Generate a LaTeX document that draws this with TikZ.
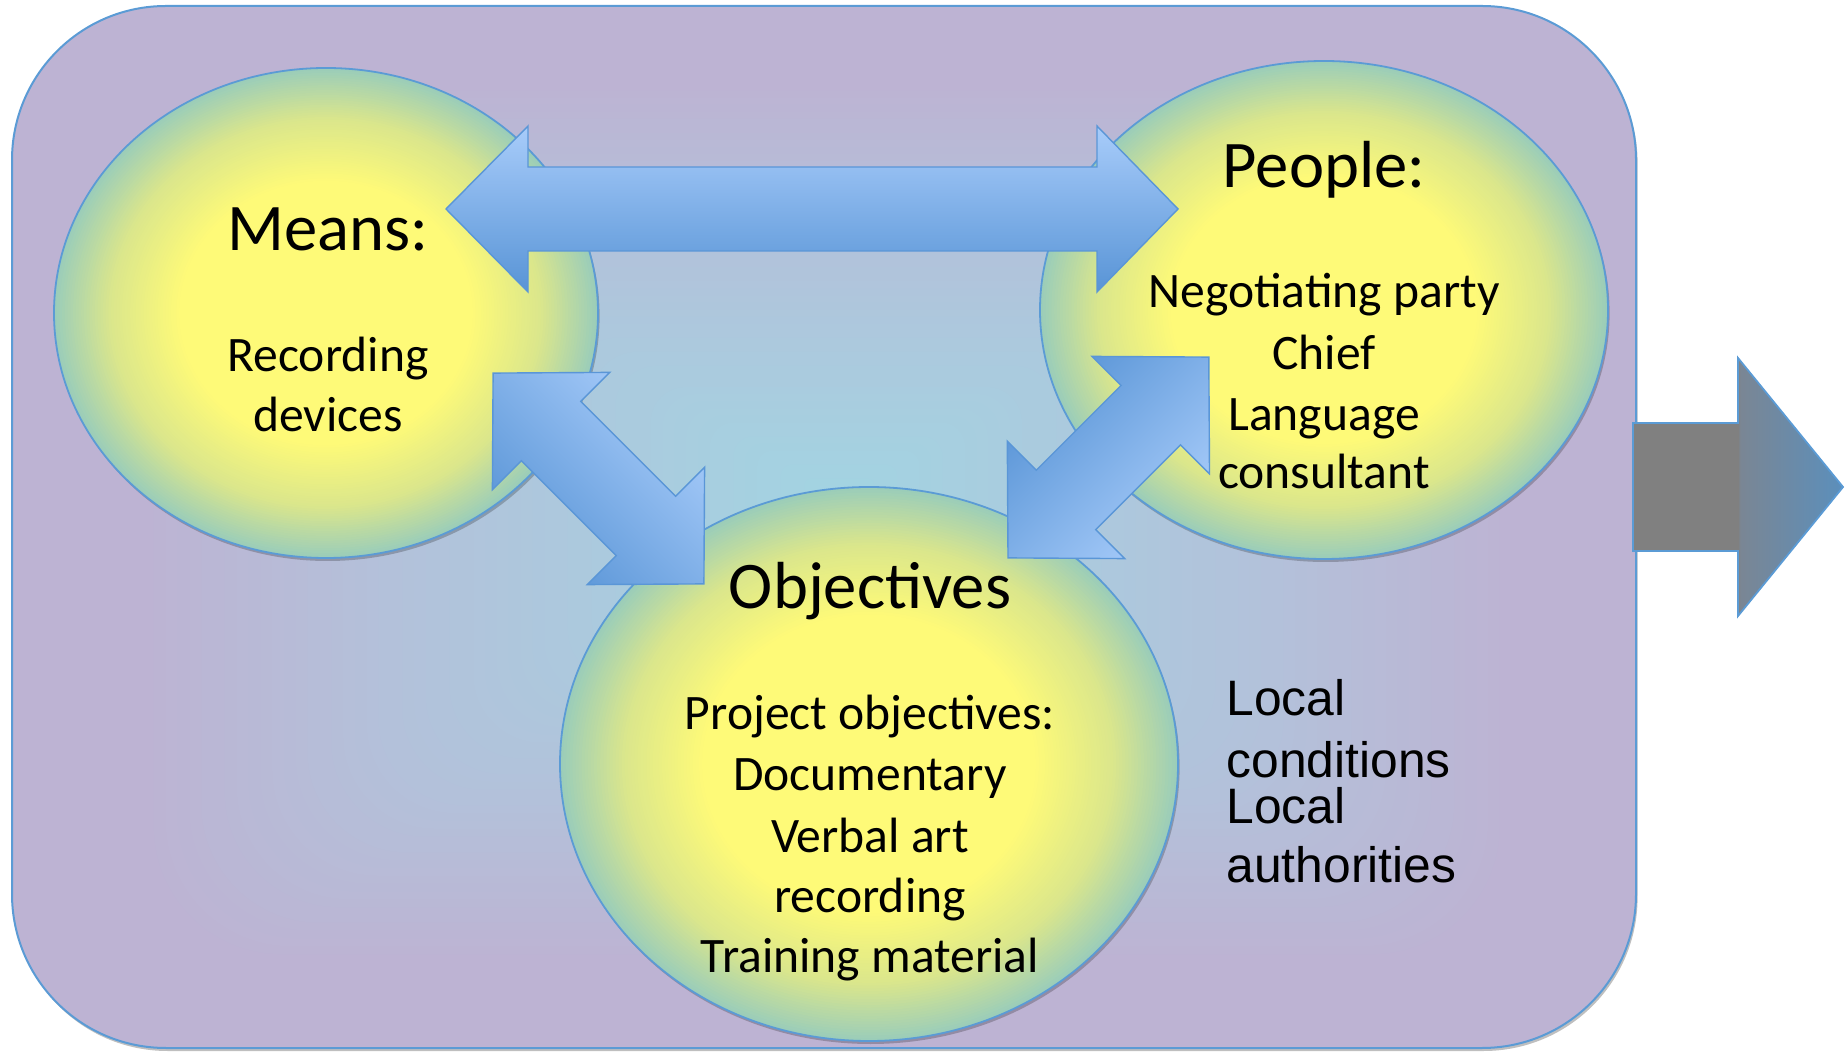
\documentclass[tikz,border=0pt]{standalone}
\usepackage{fontspec}
\setmainfont{Carlito}
\newfontfamily\arialf{Liberation Sans}
\usetikzlibrary{shapes.geometric,shadows}
\definecolor{bgC}{RGB}{162,212,226}
\definecolor{bgM}{RGB}{179,193,218}
\definecolor{bgL}{RGB}{189,179,211}
\definecolor{ellin}{RGB}{254,250,120}
\definecolor{ellmid}{RGB}{218,230,140}
\definecolor{ellout}{RGB}{155,205,185}
\definecolor{outl}{RGB}{91,155,213}
\definecolor{arL}{RGB}{168,204,250}
\definecolor{arD}{RGB}{88,148,214}
\definecolor{arO}{RGB}{90,150,215}
\definecolor{gA}{RGB}{128,128,128}
\definecolor{gB}{RGB}{122,134,148}
\definecolor{gC}{RGB}{60,152,228}
\pgfdeclarehorizontalshading{grayarrow}{100bp}{color(0bp)=(gA); color(50bp)=(gA); color(50.5bp)=(gB); color(100bp)=(gC)}
% gradient-filled ellipse: name, cx, cy, rx, ry (in px units)
\newcommand\gradblob[5]{%
  \fill[black,opacity=0.22] ({#2+1.6},{#3+3}) ellipse [x radius=#4, y radius=#5];
  \foreach \j in {0,...,46} {
    \pgfmathsetmacro\eS{1-\j*0.46/46}
    \pgfmathsetmacro\eU{(\eS-0.54)/0.46}
    \pgfmathsetmacro\eP{min(100,max(0,\eU/0.56*100))}
    \pgfmathsetmacro\eQ{min(100,max(0,(\eU-0.56)/0.44*100))}
    \pgfmathsetmacro\eRx{#4*\eS}
    \pgfmathsetmacro\eRy{#5*\eS}
    \colorlet{emix}{ellmid!\eP!ellin}
    \colorlet{estep}{ellout!\eQ!emix}
    \fill[estep] (#2,#3) ellipse [x radius=\eRx, y radius=\eRy];
  }
  \node[ellipse,inner sep=0pt,draw=outl,line width=0.9pt,minimum width=#4pt,minimum height=#5pt] (#1) at (#2,#3) {};
}
\begin{document}
\begin{tikzpicture}[x=0.5pt,y=-0.5pt,
  softshadow/.style={drop shadow={shadow xshift=0.8pt,shadow yshift=-1.5pt,opacity=0.25,fill=black}},
  blockarrow/.style={top color=arL,bottom color=arD,draw=arO,line width=0.7pt},
  titletext/.style={font=\fontsize{33.3}{40}\selectfont,anchor=base,inner sep=0pt},
  bodytext/.style={font=\fontsize{24.8}{30}\selectfont,anchor=base,inner sep=0pt},
  sidetext/.style={font=\arialf\fontsize{24.9}{30}\selectfont,anchor=base west,inner sep=0pt}]
\useasboundingbox (0,0) rectangle (1847,1052);
% background panel with a rectangular (path) gradient
\path[fill=bgL,rounded corners=77pt,softshadow] (12,6) rectangle (1636,1048);
\begin{scope}
  \clip[rounded corners=77pt] (12,6) rectangle (1636,1048);
  \foreach \i in {0,...,70} {
    \pgfmathsetmacro{\bgT}{1-\i/70}
    \pgfmathsetmacro{\bgA}{min(100,max(0,(\bgT-0.55)/0.3*100))}
    \pgfmathsetmacro{\bgB}{min(100,max(0,\bgT/0.55*100))}
    \pgfmathsetmacro{\bgR}{max(0.1,77*\bgT)}
    \colorlet{bgmix}{bgM!\bgB!bgC}
    \colorlet{bgstep}{bgL!\bgA!bgmix}
    \fill[bgstep,rounded corners=\bgR pt]
      ({840-\bgT*828},{500-\bgT*494}) rectangle ({840+\bgT*796},{500+\bgT*548});
  }
\end{scope}
\draw[outl,line width=1pt,rounded corners=77pt] (12,6) rectangle (1636,1048);
% ellipses
\gradblob{means}{326}{313}{272}{245}
\gradblob{people}{1324}{310}{284}{249}
\gradblob{objectives}{869}{764}{309}{277}
% block arrows
\shade[blockarrow] (446,209) -- (528,126) -- (528,167) -- (1097,167) -- (1097,126) -- (1178,209)
  -- (1097,292) -- (1097,251) -- (528,251) -- (528,292) -- cycle;
\shade[blockarrow,shading angle=-45] (493.1,373.1) -- (609.8,372.4) -- (580.8,401.4) -- (675.6,496.2)
  -- (704.6,467.2) -- (703.9,583.9) -- (587.2,584.6) -- (616.2,555.6) -- (521.4,460.8) -- (492.4,489.8) -- cycle;
\shade[blockarrow,shading angle=-135] (1208.8,357.1) -- (1092.1,356.4) -- (1121.1,385.4) -- (1036.3,470.2)
  -- (1007.3,441.2) -- (1008.0,557.9) -- (1124.7,558.6) -- (1095.7,529.6) -- (1180.5,444.8) -- (1209.5,473.8) -- cycle;
% outgoing arrow
\shade[shading=grayarrow,draw=outl,line width=0.9pt] (1633,423) -- (1738,423) -- (1738,358) -- (1843,487)
  -- (1738,616) -- (1738,551) -- (1633,551) -- cycle;
% texts
\node[titletext] (meansT) at (328,251) {Means:};
\node[bodytext] (meansA) at (328,372) {Recording};
\node[bodytext] (meansB) at (328,432) {devices};
\node[titletext] (peopleT) at (1324,188) {People:};
\node[bodytext] (peopleA) at (1324,308) {Negotiating party};
\node[bodytext] (peopleB) at (1324,370) {Chief};
\node[bodytext] (peopleC) at (1324,431) {Language};
\node[bodytext] (peopleD) at (1324,489) {consultant};
\node[titletext] (objT) at (870,609) {Objectives};
\node[bodytext] (objA) at (870,730) {Project objectives:};
\node[bodytext] (objB) at (870,791) {Documentary};
\node[bodytext] (objC) at (870,852) {Verbal art};
\node[bodytext] (objD) at (870,912) {recording};
\node[bodytext] (objE) at (870,972) {Training material};
\node[sidetext] (locA) at (1226,716) {Local};
\node[sidetext] (locB) at (1226,777) {conditions};
\node[sidetext] (locC) at (1226,823) {Local};
\node[sidetext] (locD) at (1226,882) {authorities};
\end{tikzpicture}
\end{document}
